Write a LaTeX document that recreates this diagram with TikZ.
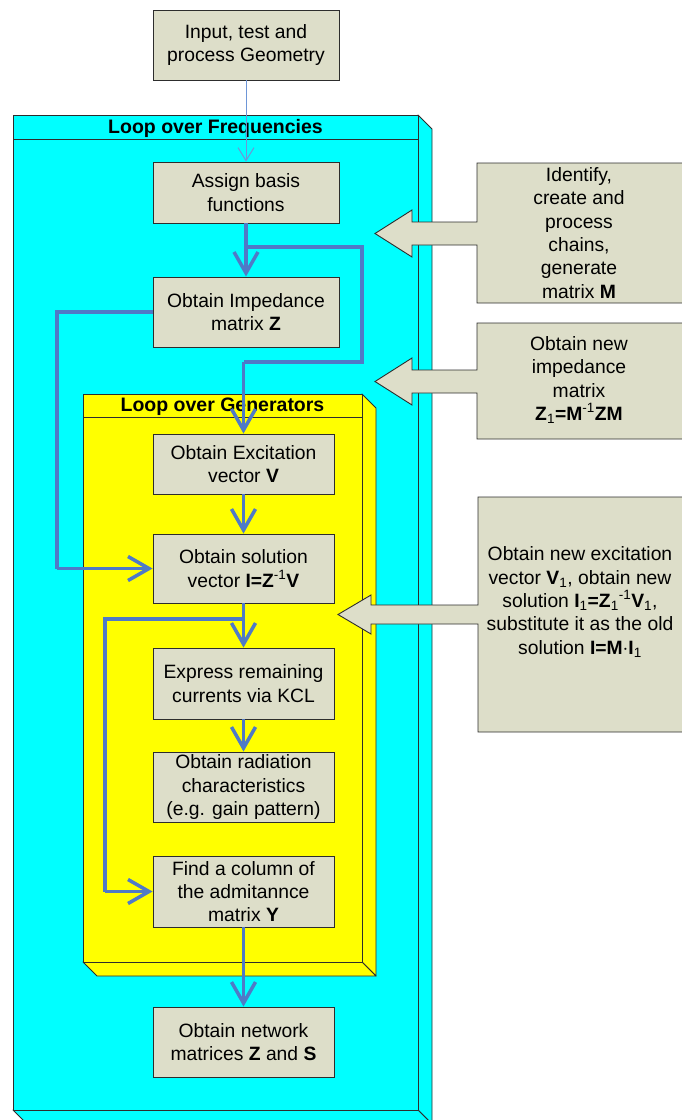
\documentclass[tikz,border=0pt]{standalone}
\usepackage{fontspec}
\setmainfont{Liberation Sans}
\usetikzlibrary{arrows.meta}
\definecolor{boxgray}{RGB}{221,222,201}
\definecolor{edge}{RGB}{45,45,45}
\definecolor{flowblue}{RGB}{79,122,199}
\definecolor{thinblue}{RGB}{110,150,215}
\definecolor{loopcyan}{RGB}{0,255,255}
\definecolor{loopyellow}{RGB}{255,255,0}
\begin{document}
\begin{tikzpicture}[x=1pt,y=-1pt,
  every node/.style={font=\fontsize{19.3}{23.3}\selectfont, text=black},
  stepbox/.style={draw=edge, line width=0.9pt, fill=boxgray, inner sep=0pt, align=center},
  outerbox/.style={draw=edge, line width=0.9pt, line join=round},
  callout/.style={draw=edge, line width=0.9pt, fill=boxgray},
  flow/.style={draw=flowblue, line width=3.5pt, -{Straight Barb[length=21pt,width=24pt]}},
  flowline/.style={draw=flowblue, line width=3.5pt},
  thinflow/.style={draw=thinblue, line width=1pt, -{Straight Barb[length=13pt,width=16pt]}},
  looptitle/.style={font=\fontsize{19.5}{23.3}\selectfont\bfseries, inner sep=0pt}]
\useasboundingbox (0,0) rectangle (682,1120);

% outer cyan 3D box
\draw[outerbox, fill=loopcyan] (418,115) -- (432,129) -- (432,1124) -- (418,1110) -- cycle;
\draw[outerbox, fill=loopcyan] (13,1110) -- (418,1110) -- (432,1124) -- (27,1124) -- cycle;
\draw[outerbox, fill=loopcyan] (13,115) rectangle (418,1110);
\draw[outerbox] (13,139) -- (418,139);
\node[looptitle] (freqtitle) at (215.5,128) {Loop over Frequencies};

% inner yellow 3D box
\draw[outerbox, fill=loopyellow] (362,394) -- (376,408) -- (376,976) -- (362,962) -- cycle;
\draw[outerbox, fill=loopyellow] (83,962) -- (362,962) -- (376,976) -- (97,976) -- cycle;
\draw[outerbox, fill=loopyellow] (83,394) rectangle (362,962);
\draw[outerbox] (83,417) -- (362,417);
\node[looptitle] (gentitle) at (222.5,406.5) {Loop over Generators};

% process boxes
\node[stepbox, minimum width=186pt, minimum height=70pt] (in) at (246,45) {Input, test and\\process Geometry};
\node[stepbox, minimum width=186pt, minimum height=61pt] (assign) at (246,192.5) {Assign basis\\functions};
\node[stepbox, minimum width=186pt, minimum height=70pt] (imp) at (246,312) {Obtain Impedance\\matrix \textbf{Z}};
\node[stepbox, minimum width=181pt, minimum height=60pt] (exc) at (243.5,464) {Obtain Excitation\\vector \textbf{V}};
\node[stepbox, minimum width=181pt, minimum height=69pt] (sol) at (243.5,568.5) {Obtain solution\\vector \textbf{I=Z}\textsuperscript{-1}\textbf{V}};
\node[stepbox, minimum width=181pt, minimum height=71pt] (expr) at (243.5,683.5) {Express remaining\\currents via KCL};
\node[stepbox, minimum width=181pt, minimum height=70pt] (rad) at (243.5,787) {Obtain radiation\\characteristics\\(e.g. gain pattern)};
\node[stepbox, minimum width=181pt, minimum height=71pt] (find) at (243.5,891.5) {Find a column of\\the admitannce\\matrix \textbf{Y}};
\node[stepbox, minimum width=181pt, minimum height=70pt] (net) at (243.5,1042) {Obtain network\\matrices \textbf{Z} and \textbf{S}};

% callouts
\draw[callout] (684,163) -- (477,163) -- (477,222) -- (412,222) -- (412,210) -- (375,233.5) -- (412,257) -- (412,245) -- (477,245) -- (477,303) -- (684,303) -- cycle;
\node[align=center, inner sep=0pt] (c1) at (579,233) {Identify,\\create and\\process\\chains,\\generate\\matrix \textbf{M}};
\draw[callout] (684,323) -- (477,323) -- (477,370) -- (412,370) -- (412,358) -- (375,381.5) -- (412,405) -- (412,393) -- (477,393) -- (477,439) -- (684,439) -- cycle;
\node[align=center, inner sep=0pt] (c2) at (579,380) {Obtain new\\impedance\\matrix\\\textbf{Z\textsubscript{\mdseries 1}=M\textsuperscript{\mdseries -1}ZM}};
\draw[callout] (684,497) -- (478,497) -- (478,605) -- (371,605) -- (371,595) -- (338,614.5) -- (371,634) -- (371,624) -- (478,624) -- (478,732) -- (684,732) -- cycle;
\node[align=center, inner sep=0pt] (c3) at (580,602) {Obtain new excitation\\vector \textbf{V}\textsubscript{1}, obtain new\\solution \textbf{I}\textsubscript{1}\textbf{=Z}\textsubscript{1}\textsuperscript{-1}\textbf{V}\textsubscript{1},\\substitute it as the old\\solution \textbf{I=M$\cdot$I}\textsubscript{1}};

% connectors
\coordinate (b1) at (246,247);
\coordinate (b2) at (362,247);
\coordinate (b3) at (362,362);
\coordinate (b4) at (243.5,362);
\coordinate (l1) at (57,312);
\coordinate (l2) at (57,568.5);
\coordinate (s1) at (243.5,619);
\coordinate (s2) at (105,619);
\coordinate (s3) at (105,891.5);

\draw[thinflow] (in.south) -- (assign.north);
\draw[flow] (assign.south) -- (imp.north);
\draw[flowline] (b1) -- (b2) -- (b3) -- (b4);
\draw[flow] (b4) -- (exc.north);
\draw[flowline] (imp.west) -- (l1) -- (l2);
\draw[flow] (l2) -- (sol.west);
\draw[flow] (exc.south) -- (sol.north);
\draw[flow] (sol.south) -- (expr.north);
\draw[flowline] (s1) -- (s2) -- (s3);
\draw[flow] (s3) -- (find.west);
\draw[flow] (expr.south) -- (rad.north);
\draw[flow] (find.south) -- (net.north);
\end{tikzpicture}
\end{document}
